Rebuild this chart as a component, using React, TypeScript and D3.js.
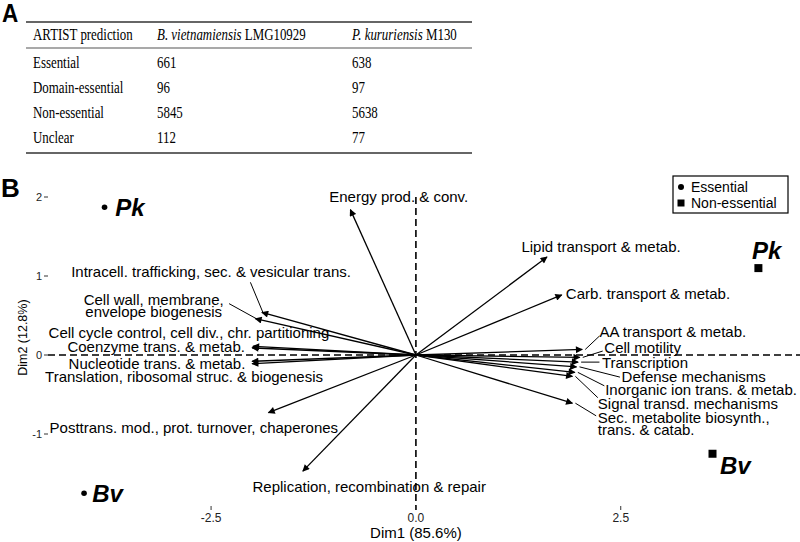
import React from 'react';
import * as d3 from 'd3';

// ---- panel A: table ----
const tableHeader = ['ARTIST prediction', 'B. vietnamiensis', 'P. kururiensis'];
const tableHeaderSuffix = ['', ' LMG10929', ' M130'];
const predictionClasses = ['Essential', 'Domain-essential', 'Non-essential', 'Unclear'];
const bvCounts = [661, 96, 5845, 112];
const pkCounts = [638, 97, 5638, 77];

// ---- panel B: biplot ----
const xTicks = [-2.5, 0, 2.5];
const yTicks = [-1, 0, 1, 2];

// variable loadings (arrow tips, Dim1 / Dim2)
const cogNames = [
  'Energy prod. & conv.',
  'Lipid transport & metab.',
  'Carb. transport & metab.',
  'AA transport & metab.',
  'Cell motility',
  'Transcription',
  'Defense mechanisms',
  'Inorganic ion trans. & metab.',
  'Signal transd. mechanisms',
  'Sec. metabolite biosynth.,\ntrans. & catab.',
  'Intracell. trafficking, sec. & vesicular trans.',
  'Cell wall, membrane,\nenvelope biogenesis',
  'Cell cycle control, cell div., chr. partitioning',
  'Coenzyme trans. & metab.',
  'Nucleotide trans. & metab.',
  'Translation, ribosomal struc. & biogenesis',
  'Posttrans. mod., prot. turnover, chaperones',
  'Replication, recombination & repair',
];
const cogDim1 = [-0.8, 1.6, 1.78, 2.03, 2.0, 1.98, 1.96, 1.94, 1.91, 1.91, -1.88, -1.96, -1.99, -2.0, -2.0, -2.0, -1.8, -1.38];
const cogDim2 = [1.84, 1.24, 0.76, 0.07, -0.03, -0.09, -0.15, -0.22, -0.27, -0.61, 0.54, 0.46, 0.11, 0.09, -0.08, -0.11, -0.73, -1.47];

// label placement (repelled), data units
const labelDim1 = [-0.21, 2.26, 1.83, 2.24, 2.3, 2.27, 2.51, 2.31, 2.22, 2.22, -2.5, -3.2, -2.77, -3.17, -3.16, -2.83, -2.71, -0.57];
const labelDim2 = [2.0, 1.37, 0.78, 0.3, 0.09, -0.1, -0.28, -0.44, -0.62, -0.79, 1.05, 0.7, 0.28, 0.1, -0.11, -0.28, -0.92, -1.67];
const labelAnchor = ['middle', 'middle', 'start', 'start', 'start', 'start', 'start', 'start', 'start', 'start', 'middle', 'middle', 'middle', 'middle', 'middle', 'middle', 'middle', 'middle'];
// leader line start points (null = no leader)
const leaderDim1 = [null, null, null, 2.24, 2.28, 2.24, 2.49, 2.3, 2.22, 2.2, -2.02, -2.28, null, null, null, null, null, null];
const leaderDim2 = [null, null, null, 0.24, 0.05, -0.09, -0.28, -0.39, -0.54, -0.77, 0.92, 0.65, null, null, null, null, null, null];

// individuals
const indNames = ['Pk', 'Bv', 'Pk', 'Bv'];
const indGroup = ['Essential', 'Essential', 'Non-essential', 'Non-essential'];
const indDim1 = [-3.8, -4.05, 4.18, 3.62];
const indDim2 = [1.87, -1.75, 1.1, -1.25];
const indLabelDim1 = [-3.67, -3.95, 4.28, 3.71];
const indLabelDim2 = [1.87, -1.75, 1.32, -1.4];
const indLabelAnchor = ['start', 'start', 'middle', 'start'];

const legendItems = ['Essential', 'Non-essential'];

const SANS = '"Liberation Sans", Arial, sans-serif';
const SERIF = '"Liberation Serif", "Times New Roman", serif';

export default function App() {
  const width = 800;
  const height = 542;

  const x = d3.scaleLinear().domain([-4.6, 4.7]).range([39, 801]);
  const y = d3.scaleLinear().domain([-2, 2]).range([513, 197]);

  const rowY = d3.scalePoint<string>().domain(predictionClasses).range([68, 143]);
  const colX = [33, 157, 352];
  const sx = 0.76;
  const tickFmt = (t: number, digits: number) => d3.format(`.${digits}f`)(t).replace('\u2212', '-');

  return (
    <svg width={width} height={height} style={{ position: 'absolute', left: 0, top: 0, background: '#fff' }}>
      <defs>
        <marker id="arrowhead" viewBox="0 0 10 10" refX={9} refY={5} markerWidth={9} markerHeight={7}
          markerUnits="userSpaceOnUse" orient="auto">
          <path d="M0,0 L10,5 L0,10 z" fill="#000" />
        </marker>
      </defs>

      {/* Panel A */}
      <text fontFamily={SANS} fontWeight="bold" fontSize={25} transform="translate(2,22) scale(0.9,1)">A</text>
      <line x1={26} x2={472} y1={22} y2={22} stroke="#333" strokeWidth={1.6} />
      <line x1={26} x2={472} y1={48} y2={48} stroke="#555" strokeWidth={1.2} />
      <line x1={26} x2={472} y1={153} y2={153} stroke="#333" strokeWidth={1.6} />
      {tableHeader.map((h, i) => (
        <text key={h} fontFamily={SERIF} fontSize={17} transform={`translate(${colX[i]},40) scale(${sx},1)`}>
          <tspan fontStyle={i > 0 ? 'italic' : 'normal'}>{h}</tspan>
          {tableHeaderSuffix[i] && <tspan>{tableHeaderSuffix[i]}</tspan>}
        </text>
      ))}
      {predictionClasses.map((c, i) => (
        <g key={c} fontFamily={SERIF} fontSize={17}>
          <text transform={`translate(${colX[0]},${rowY(c)}) scale(${sx},1)`}>{c}</text>
          <text transform={`translate(${colX[1]},${rowY(c)}) scale(${sx},1)`}>{bvCounts[i]}</text>
          <text transform={`translate(${colX[2]},${rowY(c)}) scale(${sx},1)`}>{pkCounts[i]}</text>
        </g>
      ))}

      {/* Panel B */}
      <text x={1} y={197} fontFamily={SANS} fontWeight="bold" fontSize={26}>B</text>

      <g fontFamily={SANS}>
        {/* dashed reference lines */}
        <line x1={48} x2={800} y1={y(0)} y2={y(0)} stroke="#000" strokeWidth={1.4} strokeDasharray="7,4" />
        <line x1={x(0)} x2={x(0)} y1={y(2.0)} y2={510} stroke="#000" strokeWidth={1.6} strokeDasharray="7,4" />

        {/* axes ticks */}
        {xTicks.map(t => (
          <g key={t}>
            <line x1={x(t)} x2={x(t)} y1={506} y2={510} stroke="#333" strokeWidth={1} />
            <text x={x(t)} y={522} textAnchor="middle" fontSize={12} fill="#222">{tickFmt(t, 1)}</text>
          </g>
        ))}
        {yTicks.map(t => (
          <g key={t}>
            <line x1={44} x2={48} y1={y(t)} y2={y(t)} stroke="#333" strokeWidth={1} />
            <text x={42} y={y(t)} dy="0.35em" textAnchor="end" fontSize={11} fill="#222">{tickFmt(t, 0)}</text>
          </g>
        ))}
        <text x={x(0)} y={538} textAnchor="middle" fontSize={15}>Dim1 (85.6%)</text>
        <text transform={`translate(27,${y(0.22)}) rotate(-90)`} textAnchor="middle" fontSize={12.5}>Dim2 (12.8%)</text>

        {/* loading arrows */}
        {cogNames.map((n, i) => (
          <line key={'a' + i} x1={x(0)} y1={y(0)} x2={x(cogDim1[i])} y2={y(cogDim2[i])}
            stroke="#000" strokeWidth={1.3} markerEnd="url(#arrowhead)" />
        ))}
        {cogNames.map((n, i) => {
          const lines = n.split('\n');
          const lx = x(labelDim1[i]);
          const ly = y(labelDim2[i]);
          const ld1 = leaderDim1[i];
          const ld2 = leaderDim2[i];
          return (
            <g key={'l' + i}>
              {ld1 !== null && ld2 !== null && (
                <line x1={x(ld1)} y1={y(ld2)} x2={x(cogDim1[i]) + (cogDim1[i] > 0 ? 3 : 1)} y2={y(cogDim2[i])}
                  stroke="#000" strokeWidth={1} />
              )}
              <text x={lx} y={ly} textAnchor={labelAnchor[i]} fontSize={15} fill="#000">
                {lines.map((s, j) => (
                  <tspan key={j} x={lx} dy={j === 0 ? '0.35em' : '0.8em'}>{s}</tspan>
                ))}
              </text>
            </g>
          );
        })}

        {/* individuals */}
        {indNames.map((n, i) => (
          <g key={'p' + i}>
            {indGroup[i] === 'Essential'
              ? <circle cx={x(indDim1[i])} cy={y(indDim2[i])} r={2.8} fill="#000" />
              : <rect x={x(indDim1[i]) - 4} y={y(indDim2[i]) - 4} width={8} height={8} fill="#000" />}
            <text x={x(indLabelDim1[i])} y={y(indLabelDim2[i])} dy="0.35em" textAnchor={indLabelAnchor[i]}
              fontSize={24} fontWeight="bold" fontStyle="italic">{n}</text>
          </g>
        ))}

        {/* legend */}
        <rect x={673} y={176} width={115} height={37} fill="#fff" stroke="#000" strokeWidth={1.2} />
        {legendItems.map((l, i) => (
          <g key={l} transform={`translate(681,${187 + i * 16})`}>
            {l === 'Essential'
              ? <circle cx={0} cy={0} r={3} fill="#000" />
              : <rect x={-3.5} y={-3.5} width={7} height={7} fill="#000" />}
            <text x={10} y={0} dy="0.35em" fontSize={14}>{l}</text>
          </g>
        ))}
      </g>
    </svg>
  );
}
